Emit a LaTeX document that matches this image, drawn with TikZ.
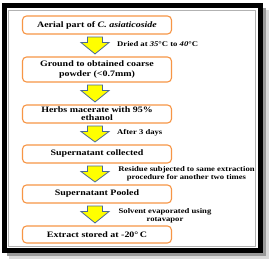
\documentclass[tikz,border=0pt]{standalone}
\usepackage{fontspec}
\setmainfont{Liberation Serif}[FakeStretch=1.2]
\usetikzlibrary{calc}
\definecolor{boxorange}{HTML}{F79646}
\definecolor{arrowedge}{HTML}{4A6A94}
\definecolor{arrowfill}{HTML}{FFFF00}
\tikzset{
  box/.style={draw=boxorange, line width=1.1pt, rounded corners=4pt, minimum width=149pt,
    inner sep=0pt, align=center, text=black, font=\fontsize{8.3}{9}\selectfont\bfseries},
  lab/.style={inner sep=0pt, text=black, font=\fontsize{7.2}{8}\selectfont\bfseries},
  yarr/.style={draw=arrowedge, fill=arrowfill, line width=0.8pt, line join=miter}
}
\newcommand\yellowarrow[2]{%
  \draw[yarr] let \p1=(#1.south), \p2=(#2.north) in
    (87.5pt,\y1-2.5pt) -- (102.5pt,\y1-2.5pt) -- (102.5pt,\y1-8pt) -- (109pt,\y1-8pt)
    -- (95pt,\y2+2.5pt) -- (81pt,\y1-8pt) -- (87.5pt,\y1-8pt) -- cycle;}
\begin{document}
\begin{tikzpicture}[x=1pt,y=-1pt]
\fill[white] (0,0) rectangle (271,262);
\useasboundingbox (0,0) rectangle (271,262);
% shadow and frame
\draw[black!15, line width=2.5pt] (267.5,10) -- (267.5,257.5) -- (9,257.5);
\draw[black!40, line width=3pt] (264.5,8) -- (264.5,254.5) -- (7,254.5);
\draw[black, line width=5pt] (4.5,5.5) rectangle (260.5,250.5);
\draw[black!30, line width=0.6pt] (8.5,10) rectangle (255.5,246.5);
% boxes
\node[box, minimum height=18pt] (b1) at (97,25) {Aerial part of \textit{C. asiaticoside}};
\node[box, minimum height=25pt, font=\fontsize{8.3}{9.5}\selectfont\bfseries] (b2) at (97,69.5) {Ground to obtained coarse\\powder (<0.7mm)};
\node[box, minimum height=18pt, font=\fontsize{8.3}{8}\selectfont\bfseries] (b3) at (97,114) {Herbs macerate with 95\%\\ethanol};
\node[box, minimum height=18pt] (b4) at (97,154) {Supernatant collected};
\node[box, minimum height=18pt] (b5) at (97,194) {Supernatant Pooled};
\node[box, minimum height=17pt] (b6) at (97,234.5) {Extract stored at -20\textdegree\,C};
% arrows
\yellowarrow{b1}{b2}
\yellowarrow{b2}{b3}
\yellowarrow{b3}{b4}
\yellowarrow{b4}{b5}
\yellowarrow{b5}{b6}
% labels
\node[lab, anchor=west] (l1) at (117,44.5) {Dried at \textit{35}\textdegree C to \textit{40}\textdegree C};
\node[lab, anchor=west] (l2) at (117,133) {After 3 days};
\node[lab, align=center] (l3) at (186.5,173.5) {Residue subjected to same extraction\\procedure for another two times};
\node[lab, align=center] (l4) at (165,215.5) {Solvent evaporated using\\rotavapor};
\end{tikzpicture}
\end{document}
